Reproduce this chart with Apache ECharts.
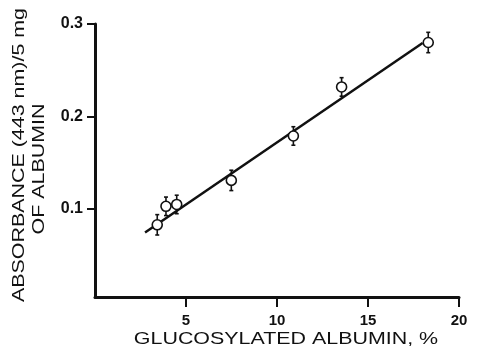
<!DOCTYPE html>
<html>
<head>
<meta charset="utf-8">
<script src="https://cdn.jsdelivr.net/npm/echarts@6/dist/echarts.min.js"></script>
<style>
  html, body { margin: 0; padding: 0; background: #fff; }
  #chart { width: 478px; height: 350px; }
</style>
</head>
<body>
<div id="chart"></div>
<script>
// Glucosylated albumin (%) vs absorbance at 443 nm per 5 mg albumin
const glucosylatedPct = [3.42, 3.90, 4.49, 7.49, 10.90, 13.55, 18.31];
const absorbance      = [0.083, 0.103, 0.105, 0.131, 0.179, 0.232, 0.280];
const sdAbsorbance    = [0.011, 0.010, 0.010, 0.011, 0.010, 0.010, 0.011];

// fitted regression line end points
const fitX = [2.75, 18.0];
const fitY = [0.0747, 0.2795];

const xTicks = [5, 10, 15, 20];
const yTicks = [0.1, 0.2, 0.3];

const xTitle = 'GLUCOSYLATED ALBUMIN, %';
const yTitle1 = 'ABSORBANCE (443 nm)/5 mg';
const yTitle2 = 'OF ALBUMIN';

const FONT = '"Liberation Sans", Arial, Helvetica, sans-serif';
const INK = '#111';
const WIDE = 1.26; // extended lettering of the axis titles

const chart = echarts.init(document.getElementById('chart'), null, { renderer: 'canvas' });

const errData = glucosylatedPct.map((x, i) => [x, absorbance[i] - sdAbsorbance[i], absorbance[i] + sdAbsorbance[i]]);

function titleText(text, x, y, rotation) {
  return {
    type: 'text', x, y, rotation, scaleX: WIDE, scaleY: 1, silent: true,
    style: {
      text, fill: INK, font: '17px ' + FONT,
      textAlign: 'center', textVerticalAlign: 'middle'
    }
  };
}

chart.setOption({
  animation: false,
  backgroundColor: '#fff',
  grid: { left: 95, right: 19, top: 24, bottom: 53 },
  xAxis: {
    type: 'value', min: 0, max: 20,
    axisLine: { show: true, lineStyle: { color: INK, width: 3 } },
    axisTick: { show: true, customValues: xTicks, length: 10, lineStyle: { color: INK, width: 2 } },
    axisLabel: {
      customValues: xTicks, margin: 16,
      fontFamily: FONT, fontWeight: 'bold', fontSize: 15, color: INK
    },
    splitLine: { show: false }
  },
  yAxis: {
    type: 'value', min: 0.005, max: 0.3,
    axisLine: { show: true, lineStyle: { color: INK, width: 3 } },
    axisTick: { show: true, customValues: yTicks, length: 8, lineStyle: { color: INK, width: 2 } },
    axisLabel: {
      customValues: yTicks, margin: 12,
      formatter: v => v.toFixed(1),
      fontFamily: FONT, fontWeight: 'bold', fontSize: 16, color: INK
    },
    splitLine: { show: false }
  },
  graphic: [
    titleText(xTitle, 286, 339, 0),
    titleText(yTitle1, 19, 155, Math.PI / 2),
    titleText(yTitle2, 39, 169, Math.PI / 2)
  ],
  series: [
    {
      type: 'line',
      data: fitX.map((x, i) => [x, fitY[i]]),
      symbol: 'none', lineStyle: { color: INK, width: 2.5 }, z: 2
    },
    {
      type: 'custom', z: 3,
      data: errData,
      renderItem: (params, api) => {
        const lo = api.coord([api.value(0), api.value(1)]);
        const hi = api.coord([api.value(0), api.value(2)]);
        const cap = 2;
        const style = { stroke: INK, lineWidth: 1.6 };
        return {
          type: 'group',
          children: [
            { type: 'line', shape: { x1: lo[0], y1: lo[1], x2: hi[0], y2: hi[1] }, style },
            { type: 'line', shape: { x1: lo[0] - cap, y1: lo[1], x2: lo[0] + cap, y2: lo[1] }, style },
            { type: 'line', shape: { x1: hi[0] - cap, y1: hi[1], x2: hi[0] + cap, y2: hi[1] }, style }
          ]
        };
      }
    },
    {
      type: 'scatter', z: 4,
      data: glucosylatedPct.map((x, i) => [x, absorbance[i]]),
      symbol: 'circle', symbolSize: 10,
      itemStyle: { color: '#fff', borderColor: INK, borderWidth: 1.6, opacity: 1 }
    }
  ]
});
</script>
</body>
</html>
